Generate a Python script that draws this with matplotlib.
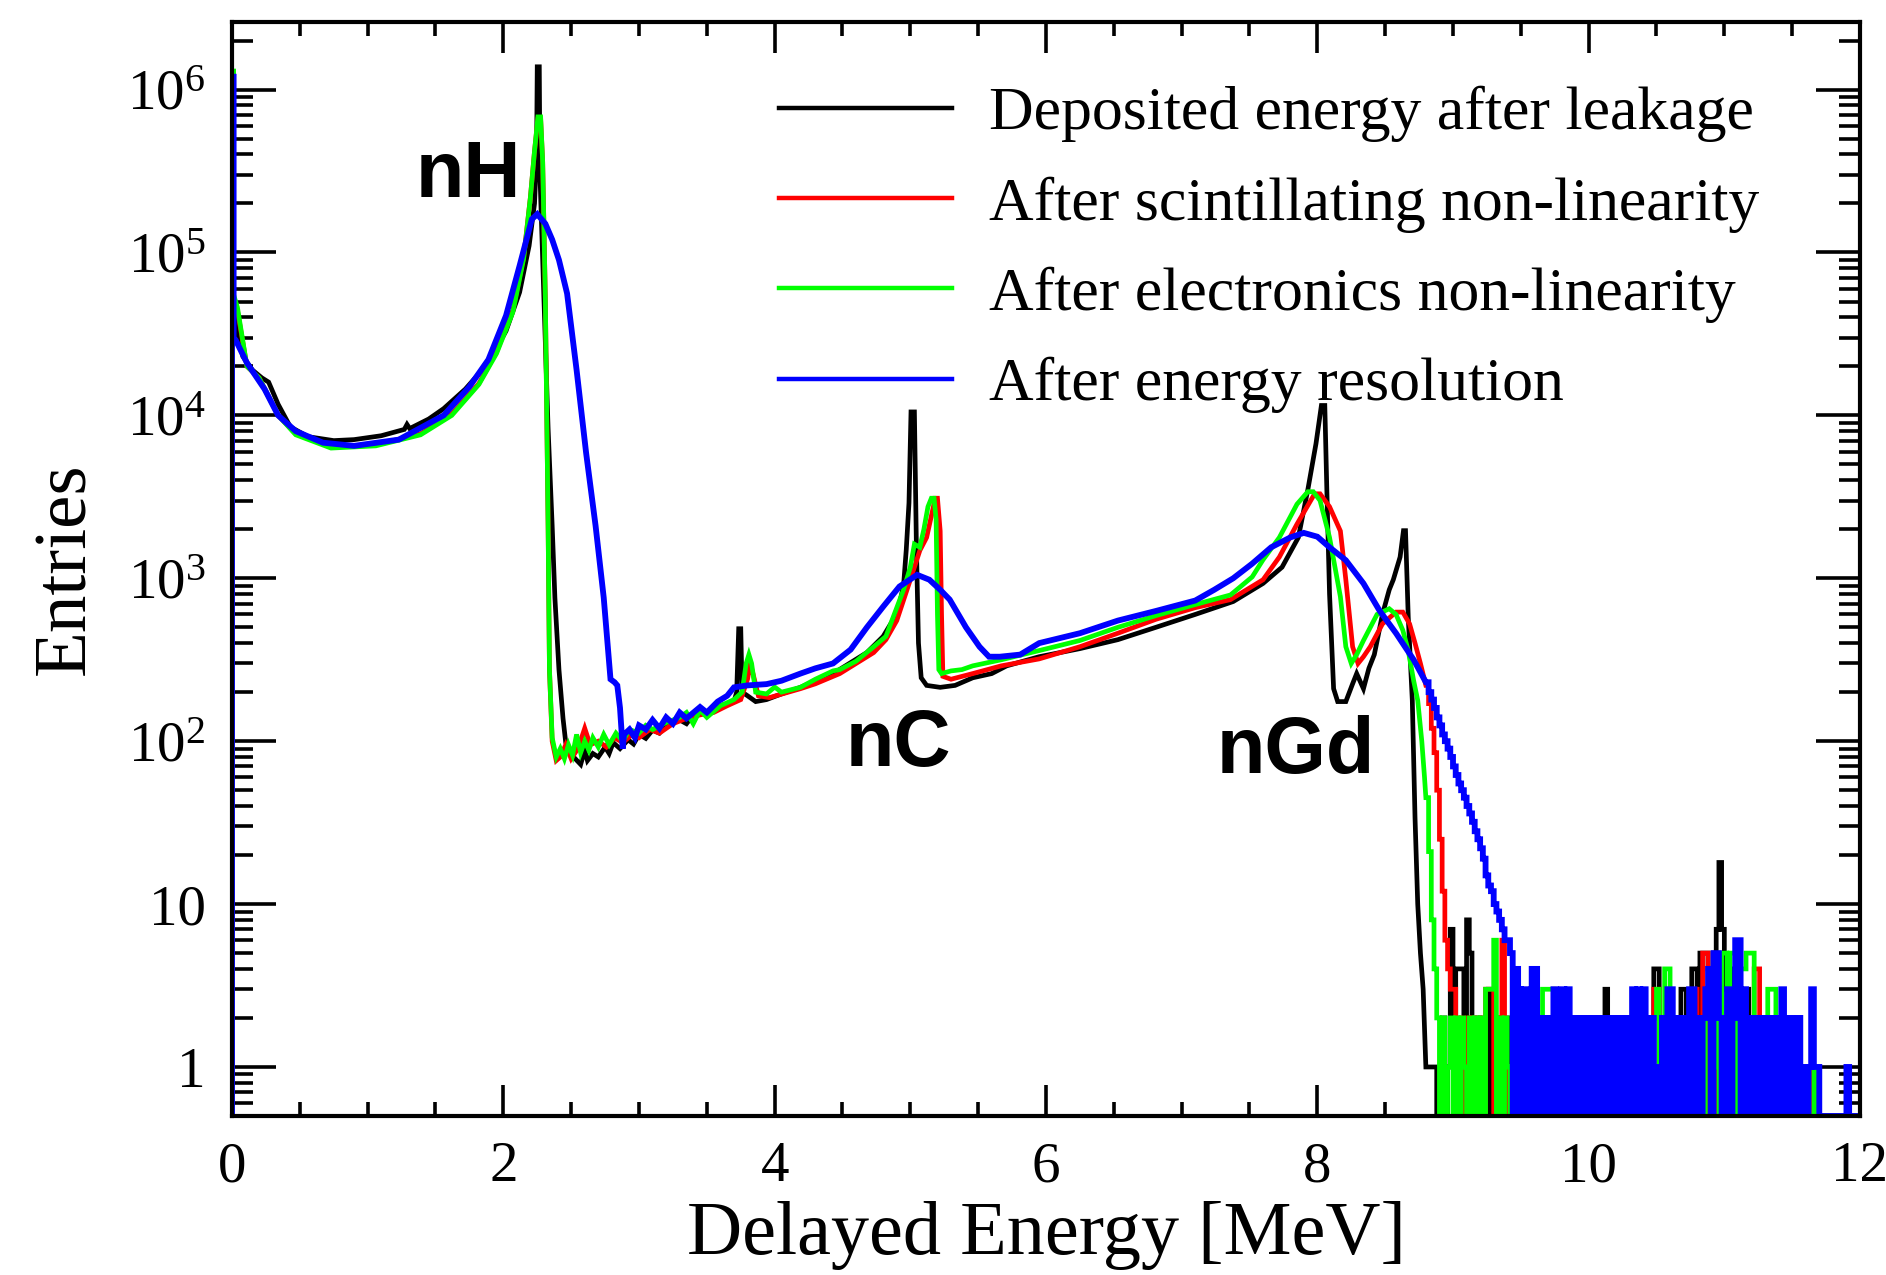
import numpy as np
import matplotlib.pyplot as plt
from matplotlib.ticker import FixedLocator, FixedFormatter, LogLocator, MultipleLocator, NullFormatter

plt.rcParams['font.family'] = ['Liberation Serif', 'DejaVu Serif']
plt.rcParams['mathtext.fontset'] = 'custom'
plt.rcParams['mathtext.rm'] = 'Liberation Serif'
plt.rcParams['mathtext.it'] = 'Liberation Serif:italic'
plt.rcParams['mathtext.bf'] = 'Liberation Serif:bold'

labels = ['Deposited energy after leakage', 'After scintillating non-linearity',
          'After electronics non-linearity', 'After energy resolution']
colors = ['#000000', '#ff0000', '#00ff00', '#0000ff']

x_ticks = [0, 2, 4, 6, 8, 10, 12]
x_ticklabels = ['0', '2', '4', '6', '8', '10', '12']
y_ticks = [1, 10, 1e2, 1e3, 1e4, 1e5, 1e6]
y_ticklabels = ['1', '10', r'$10^{2}$', r'$10^{3}$', r'$10^{4}$', r'$10^{5}$', r'$10^{6}$']

peak_names = ['nH', 'nC', 'nGd']
peak_x = [1.35, 4.52, 7.26]
peak_y = [2.2e5, 70, 63.5]

dep_main = [(0.0, 0), (0.0, 1.2e6), (0.012, 1.2e6), (0.012, 4.5e4), (0.03, 3.5e4), (0.08, 2.3e4),
            (0.15, 1.9e4), (0.22, 1.7e4), (0.27, 1.6e4), (0.34, 1.17e4), (0.43, 8.5e3), (0.56, 7.4e3),
            (0.75, 7.0e3), (0.90, 7.1e3), (1.10, 7.5e3), (1.27, 8.2e3), (1.29, 8.8e3), (1.31, 8.3e3),
            (1.45, 9.5e3), (1.56, 1.1e4), (1.72, 1.45e4), (1.89, 2.1e4), (2.02, 3.3e4), (2.12, 5.7e4),
            (2.19, 1.1e5), (2.23, 2.0e5), (2.245, 4.0e5), (2.25, 1.38e6), (2.265, 1.38e6), (2.27, 3.0e5),
            (2.30, 5.0e4), (2.33, 8.3e3), (2.36, 2.1e3), (2.38, 760), (2.41, 275), (2.44, 138),
            (2.46, 98), (2.49, 85), (2.53, 78), (2.57, 72), (2.60, 88), (2.62, 76), (2.66, 84),
            (2.70, 80), (2.75, 92), (2.78, 84), (2.81, 98), (2.86, 90), (2.92, 102), (2.96, 96),
            (3.00, 110), (3.05, 104), (3.10, 117), (3.15, 112), (3.20, 125), (3.30, 135), (3.35, 128),
            (3.40, 145), (3.50, 150), (3.60, 165), (3.70, 175), (3.72, 200), (3.735, 490), (3.75, 490),
            (3.76, 200), (3.80, 190), (3.86, 175), (3.94, 180), (4.05, 195), (4.19, 214), (4.30, 235),
            (4.43, 260), (4.55, 300), (4.68, 350), (4.80, 440), (4.87, 550), (4.92, 700), (4.95, 900),
            (4.97, 1500), (4.99, 2900), (5.005, 1.05e4), (5.03, 1.05e4), (5.045, 1500), (5.06, 400),
            (5.08, 245), (5.12, 220), (5.22, 214), (5.33, 220), (5.46, 245), (5.60, 260), (5.71, 290),
            (5.95, 330), (6.25, 370), (6.53, 420), (6.81, 500), (7.10, 600), (7.38, 720), (7.60, 930),
            (7.74, 1170), (7.86, 1780), (7.93, 3500), (7.99, 6700), (8.03, 1.15e4), (8.055, 1.15e4),
            (8.07, 3500), (8.09, 800), (8.12, 210), (8.15, 175), (8.21, 175), (8.26, 225), (8.29, 260),
            (8.34, 210), (8.38, 280), (8.42, 340), (8.48, 600), (8.53, 850), (8.56, 980), (8.61, 1350),
            (8.635, 1960), (8.65, 1960), (8.67, 580), (8.70, 178), (8.72, 34), (8.74, 10), (8.76, 5),
            (8.78, 3), (8.80, 1)]

scint_main = [(0.0, 0), (0.0, 1.25e6), (0.012, 1.25e6), (0.012, 5.0e4), (0.04, 4.4e4), (0.11, 2.0e4),
              (0.20, 1.7e4), (0.34, 1.0e4), (0.47, 7.7e3), (0.73, 6.4e3), (1.06, 6.6e3), (1.39, 7.7e3),
              (1.62, 1.02e4), (1.82, 1.57e4), (1.95, 2.45e4), (2.07, 4.4e4), (2.15, 9.4e4), (2.20, 2.2e5),
              (2.23, 4.2e5), (2.255, 6.6e5), (2.275, 6.6e5), (2.29, 3.6e5), (2.31, 5.0e4), (2.33, 2.1e3),
              (2.34, 275), (2.36, 100), (2.39, 76), (2.42, 80), (2.46, 95), (2.50, 78), (2.55, 90),
              (2.60, 120), (2.64, 95), (2.70, 100), (2.76, 92), (2.82, 105), (2.88, 98), (2.95, 110),
              (3.00, 105), (3.08, 118), (3.15, 112), (3.25, 128), (3.35, 138), (3.45, 145), (3.55, 150),
              (3.65, 165), (3.75, 180), (3.80, 240), (3.82, 300), (3.84, 260), (3.88, 190), (3.96, 185),
              (4.10, 200), (4.19, 210), (4.30, 225), (4.48, 260), (4.60, 300), (4.73, 350), (4.82, 420),
              (4.90, 550), (5.00, 980), (5.07, 1480), (5.12, 1780), (5.17, 2750), (5.18, 3100),
              (5.20, 3100), (5.22, 1950), (5.23, 600), (5.24, 250), (5.30, 240), (5.46, 260), (5.67, 290),
              (5.95, 320), (6.25, 380), (6.53, 460), (6.81, 560), (7.10, 660), (7.36, 740), (7.60, 980),
              (7.72, 1350), (7.85, 2150), (7.98, 3300), (8.02, 3300), (8.09, 2750), (8.17, 1950),
              (8.21, 980), (8.26, 380), (8.30, 300), (8.34, 330), (8.39, 380), (8.48, 525), (8.58, 620),
              (8.63, 620), (8.68, 525), (8.72, 400), (8.76, 300), (8.80, 220)]

elec_main = [(0.0, 0), (0.0, 1.3e6), (0.012, 1.3e6), (0.012, 5.5e4), (0.04, 4.6e4), (0.11, 2.0e4),
             (0.20, 1.7e4), (0.34, 1.0e4), (0.47, 7.6e3), (0.73, 6.3e3), (1.06, 6.5e3), (1.39, 7.6e3),
             (1.62, 1.0e4), (1.82, 1.55e4), (1.95, 2.4e4), (2.07, 4.3e4), (2.15, 9.2e4), (2.20, 2.2e5),
             (2.23, 4.2e5), (2.255, 6.8e5), (2.275, 6.8e5), (2.29, 3.6e5), (2.31, 5.0e4), (2.33, 2.1e3),
             (2.34, 275), (2.36, 105), (2.39, 80), (2.42, 90), (2.45, 78), (2.48, 95), (2.51, 82),
             (2.54, 110), (2.57, 85), (2.60, 100), (2.63, 88), (2.66, 105), (2.70, 92), (2.74, 110),
             (2.78, 95), (2.83, 112), (2.88, 100), (2.93, 118), (3.00, 112), (3.05, 125), (3.10, 118),
             (3.20, 130), (3.30, 140), (3.35, 150), (3.40, 128), (3.45, 155), (3.50, 140), (3.60, 165),
             (3.70, 180), (3.76, 200), (3.79, 300), (3.81, 340), (3.83, 300), (3.86, 200), (3.94, 195),
             (4.00, 215), (4.05, 200), (4.19, 214), (4.30, 240), (4.43, 270), (4.48, 275), (4.60, 310),
             (4.73, 380), (4.82, 440), (4.90, 660), (4.95, 850), (5.00, 1170), (5.03, 1620),
             (5.07, 1550), (5.10, 2000), (5.13, 2750), (5.155, 3100), (5.175, 3100), (5.19, 2300),
             (5.20, 600), (5.21, 275), (5.23, 260), (5.30, 270), (5.38, 275), (5.46, 290), (5.67, 316),
             (5.95, 360), (6.25, 415), (6.53, 500), (6.81, 590), (7.10, 690), (7.36, 790), (7.52, 1020),
             (7.60, 1300), (7.72, 1780), (7.85, 2850), (7.93, 3400), (7.97, 3400), (8.02, 3000),
             (8.09, 1780), (8.17, 770), (8.21, 380), (8.25, 300), (8.29, 340), (8.34, 415), (8.44, 600),
             (8.53, 650), (8.58, 600), (8.63, 480), (8.67, 360), (8.71, 235), (8.74, 178), (8.77, 100),
             (8.79, 60), (8.80, 45)]

res_main = [(0.0, 0), (0.0, 1.2e6), (0.012, 1.2e6), (0.012, 3.0e4), (0.027, 2.9e4), (0.11, 2.1e4),
            (0.24, 1.45e4), (0.34, 1.0e4), (0.47, 8.0e3), (0.67, 6.8e3), (0.90, 6.5e3), (1.23, 7.1e3),
            (1.56, 1.0e4), (1.75, 1.5e4), (1.89, 2.2e4), (2.02, 4.1e4), (2.12, 8.3e4), (2.21, 1.6e5),
            (2.25, 1.72e5), (2.31, 1.5e5), (2.36, 1.2e5), (2.41, 9.0e4), (2.47, 5.6e4), (2.54, 1.9e4),
            (2.61, 5.9e3), (2.68, 2.1e3), (2.74, 760), (2.79, 240), (2.82, 230), (2.84, 220), (2.86, 160),
            (2.88, 90), (2.89, 110), (2.93, 118), (2.97, 105), (3.00, 125), (3.05, 118), (3.10, 135),
            (3.15, 120), (3.20, 140), (3.25, 128), (3.30, 150), (3.35, 138), (3.45, 162), (3.50, 150),
            (3.58, 175), (3.65, 190), (3.70, 214), (3.80, 220), (3.94, 224), (4.05, 235), (4.19, 260),
            (4.30, 280), (4.43, 300), (4.56, 365), (4.68, 500), (4.80, 670), (4.92, 890), (5.05, 1050),
            (5.14, 980), (5.22, 850), (5.29, 740), (5.41, 500), (5.51, 380), (5.58, 330), (5.66, 330),
            (5.81, 340), (5.95, 400), (6.25, 460), (6.53, 550), (6.81, 630), (7.10, 730), (7.24, 850),
            (7.38, 1000), (7.52, 1230), (7.66, 1550), (7.80, 1780), (7.90, 1900), (8.00, 1800),
            (8.09, 1550), (8.21, 1290), (8.34, 930), (8.46, 630), (8.58, 460), (8.71, 316), (8.80, 230)]

# entries in 0.02 MeV bins from 8.80 MeV up to 12 MeV
tail_start = 8.80
tail_bin = 0.02
dep_tail = [1, 1, 1, 1, 0, 0, 2, 0, 1, 7, 2, 4, 4, 4, 2, 8, 5, 1, 0, 2,
            0, 1, 0, 3, 0, 2, 1, 0, 1, 0, 2, 0, 1, 0, 3, 0, 1, 0, 2, 0,
            1, 0, 2, 0, 1, 0, 2, 0, 1, 0, 1, 0, 2, 0, 1, 0, 2, 2, 0, 1,
            0, 1, 0, 2, 0, 1, 3, 0, 1, 0, 2, 0, 1, 0, 2, 0, 1, 0, 2, 0,
            1, 0, 1, 0, 4, 4, 0, 2, 0, 3, 1, 0, 2, 0, 3, 3, 0, 2, 4, 4,
            0, 5, 5, 5, 4, 0, 5, 7, 18, 7, 3, 0, 4, 2, 0, 3, 2, 0, 3, 1,
            0, 2, 1, 0, 1, 0, 2, 0, 1, 0, 2, 0, 1, 0, 1, 0, 0, 1, 0, 0,
            1, 0, 0, 0, 1, 0, 0, 0, 0, 0, 0, 0, 0, 0, 0, 0, 0, 0, 0, 0]
scint_tail = [220, 170, 120, 85, 50, 25, 12, 6, 4, 3, 3, 0, 2, 0, 1, 2, 0, 2, 0, 1,
              2, 0, 3, 3, 3, 0, 1, 2, 6, 1, 0, 1, 0, 2, 0, 2, 3, 3, 0, 1,
              0, 2, 0, 1, 2, 0, 1, 3, 3, 0, 1, 0, 2, 0, 1, 0, 1, 0, 1, 0,
              1, 0, 2, 0, 1, 0, 2, 2, 0, 1, 0, 1, 0, 2, 0, 1, 0, 1, 0, 2,
              0, 1, 2, 0, 3, 3, 0, 1, 0, 2, 0, 1, 0, 2, 0, 1, 0, 2, 0, 3,
              0, 2, 5, 5, 0, 3, 2, 0, 3, 2, 0, 3, 0, 2, 0, 5, 2, 0, 2, 0,
              2, 4, 4, 0, 2, 0, 1, 0, 2, 0, 1, 0, 1, 0, 0, 1, 0, 0, 0, 1,
              0, 0, 1, 0, 0, 0, 0, 0, 0, 0, 0, 0, 0, 0, 0, 0, 0, 0, 0, 0]
elec_tail = [45, 21, 8, 4, 2, 0, 2, 0, 1, 2, 0, 2, 0, 2, 1, 0, 2, 0, 2, 0,
             2, 0, 3, 3, 3, 6, 0, 2, 0, 2, 1, 0, 2, 0, 2, 1, 0, 2, 0, 1,
             0, 2, 0, 3, 3, 3, 3, 0, 1, 0, 2, 0, 1, 0, 1, 0, 1, 0, 2, 0,
             1, 2, 2, 2, 2, 2, 0, 1, 0, 1, 0, 1, 0, 2, 0, 1, 0, 1, 0, 1,
             0, 1, 2, 0, 2, 3, 0, 2, 4, 4, 0, 2, 0, 1, 0, 2, 0, 1, 0, 2,
             0, 2, 0, 2, 3, 0, 1, 2, 0, 5, 5, 0, 5, 5, 0, 2, 4, 4, 5, 5,
             5, 0, 1, 2, 0, 1, 3, 3, 3, 0, 1, 0, 1, 0, 1, 0, 0, 1, 0, 0,
             0, 0, 0, 1, 0, 0, 0, 0, 0, 0, 0, 0, 0, 0, 0, 0, 0, 0, 0, 0]
res_tail = [230, 200, 180, 160, 140, 125, 110, 100, 90, 80, 70, 62, 55, 50, 45, 40, 36, 32, 28, 25,
            22, 19, 15, 13, 12, 10, 9, 8, 7, 6, 6, 5, 0, 4, 3, 0, 3, 2, 0, 4,
            4, 0, 2, 1, 0, 2, 0, 3, 0, 2, 3, 0, 3, 0, 2, 1, 0, 2, 0, 2,
            0, 2, 1, 0, 2, 0, 1, 2, 0, 2, 0, 2, 1, 0, 2, 0, 3, 0, 3, 0,
            3, 0, 1, 2, 0, 1, 0, 2, 0, 3, 3, 0, 2, 1, 0, 2, 0, 3, 3, 0,
            2, 0, 2, 3, 4, 0, 5, 5, 2, 0, 2, 3, 0, 2, 6, 6, 0, 3, 2, 0,
            2, 0, 2, 1, 0, 2, 0, 2, 1, 0, 2, 3, 0, 2, 2, 0, 1, 2, 0, 1,
            0, 1, 3, 1, 1, 0, 0, 0, 0, 0, 0, 0, 0, 0, 0, 1, 0, 0, 0, 0]

y_bottom = 0.5


def curve(main, tail):
    e, n = zip(*main)
    edges = tail_start + tail_bin * np.arange(len(tail) + 1)
    xs = np.concatenate([e, np.repeat(edges, 2)[1:-1]])
    ys = np.concatenate([n, np.repeat(tail, 2)]).astype(float)
    # empty bins sit on the bottom of the frame, as in ROOT
    ys = np.where(ys > 0, ys, y_bottom)
    return xs, ys


fig = plt.figure(figsize=(18.86, 12.75), dpi=100)
ax = fig.add_axes([232 / 1886, 159 / 1275, 1628 / 1886, 1094 / 1275])

handles = []
for main, tail, c, lw in [(dep_main, dep_tail, colors[0], 3.4), (scint_main, scint_tail, colors[1], 3.4),
                          (elec_main, elec_tail, colors[2], 3.4), (res_main, res_tail, colors[3], 4.2)]:
    xs, ys = curve(main, tail)
    h, = ax.plot(xs, ys, color=c, lw=lw, solid_joinstyle='miter')
    handles.append(h)

ax.set_yscale('log')
ax.set_xlim(0, 12)
ax.set_ylim(y_bottom, 2.6e6)

ax.xaxis.set_major_locator(FixedLocator(x_ticks))
ax.xaxis.set_major_formatter(FixedFormatter(x_ticklabels))
ax.xaxis.set_minor_locator(MultipleLocator(0.5))
ax.yaxis.set_major_locator(FixedLocator(y_ticks))
ax.yaxis.set_major_formatter(FixedFormatter(y_ticklabels))
ax.yaxis.set_minor_locator(LogLocator(base=10, subs=np.arange(2, 10), numticks=40))
ax.yaxis.set_minor_formatter(NullFormatter())

ax.tick_params(which='both', direction='in', top=True, right=True, width=2.6, color='black')
ax.tick_params(axis='x', which='major', length=22, labelsize=41, pad=18)
ax.tick_params(axis='x', which='minor', length=10)
ax.tick_params(axis='y', which='major', length=32, labelsize=41, pad=19)
ax.tick_params(axis='y', which='minor', length=15)
for s in ax.spines.values():
    s.set_linewidth(3)

ax.set_xlabel('Delayed Energy [MeV]', fontsize=55)
ax.xaxis.set_label_coords(0.5, -0.078)
ax.set_ylabel('Entries', fontsize=54)
ax.yaxis.set_label_coords(-0.081, 0.5)

for name, px, py in zip(peak_names, peak_x, peak_y):
    ax.text(px, py, name, family='Liberation Sans', fontweight='bold', fontsize=57,
            ha='left', va='baseline')

leg = ax.legend(handles, labels, loc='upper left', bbox_to_anchor=(0.336, 0.9415), frameon=False,
                fontsize=44.5, handlelength=2.8, handletextpad=0.59, labelspacing=0.55,
                borderpad=0, borderaxespad=0)
for line in leg.get_lines():
    line.set_linewidth(3.2)

fig.savefig('out.png', dpi=100)
